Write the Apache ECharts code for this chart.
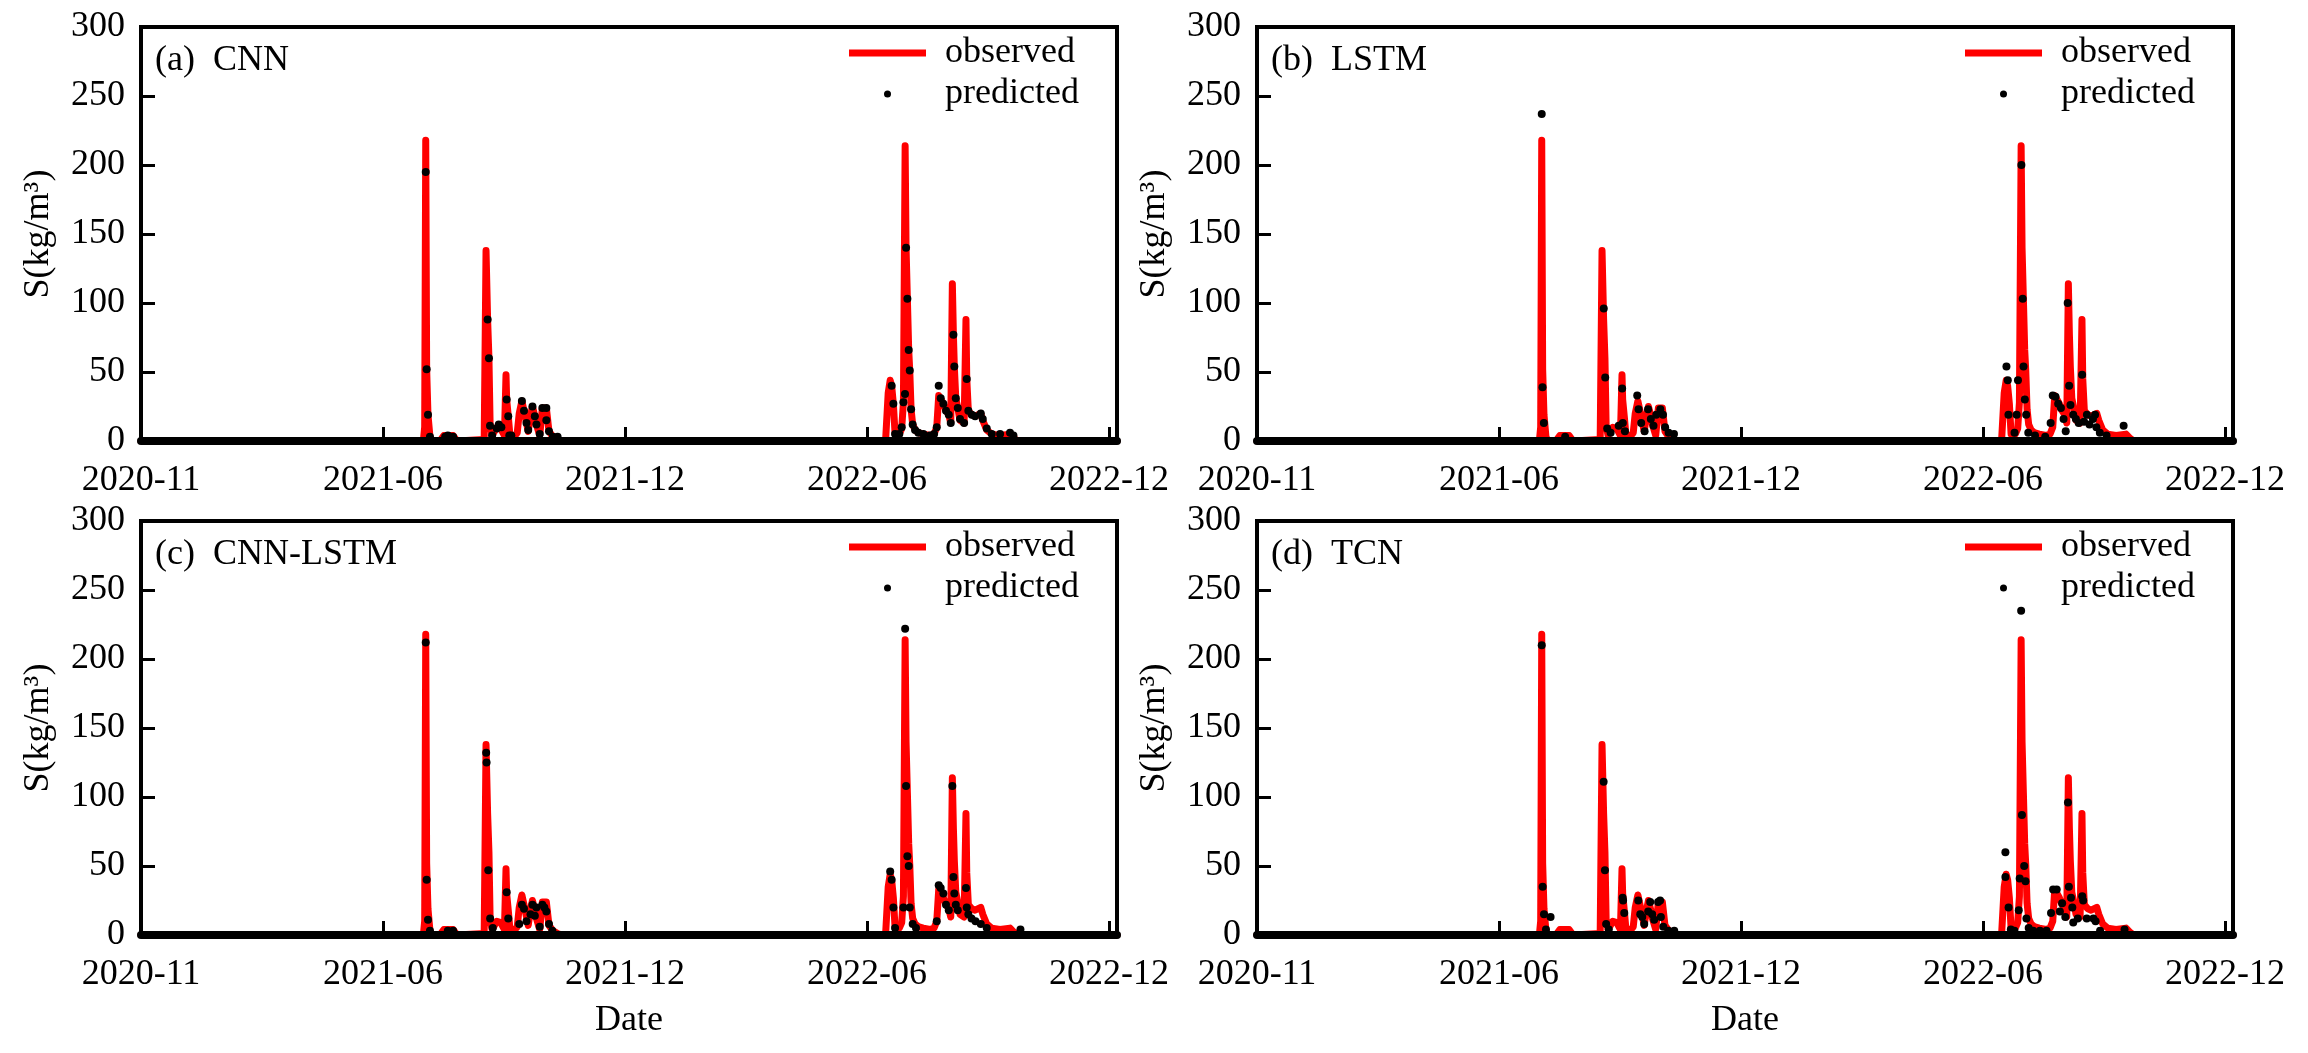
<!DOCTYPE html>
<html>
<head>
<meta charset="utf-8">
<script src="https://cdn.jsdelivr.net/npm/echarts@6/dist/echarts.min.js"></script>
<style>
html,body{margin:0;padding:0;background:#fff;}
#chart{width:2308px;height:1053px;}
</style>
</head>
<body>
<div id="chart"></div>
<script>
// x values are day offsets from the first tick ("2020-11"); one tick step = 183 days
const xTickLabels = ['2020-11', '2021-06', '2021-12', '2022-06', '2022-12'];
const yTicks = [0, 50, 100, 150, 200, 250, 300];
const panelNames = ['(a)\u2002CNN', '(b)\u2002LSTM', '(c)\u2002CNN-LSTM', '(d)\u2002TCN'];

const observed = [
  [0,0],[213.5,0],[214.5,10],[215.3,218],[216,52],[217,19],[218.5,3],[220,0],
  [226,0],[229,4],[236,4],[239,0],
  [259.5,1],[260.9,138],[262.1,88],[263.1,60],[264,11],[265.5,4],[269,10],[272,9],[274.8,4],
  [276,48],[276.5,30],[277.7,18],[279,4],[282,3],[284.5,6],[286,20],[288,29],[289.6,22],
  [291.5,13],[292.8,7],[294.5,18],[296,25],[297.8,18],[299,12],[301.5,4],[302.5,14],[303.5,24],
  [306.5,24],[308.5,7],[311.5,3],[315,1],[318,0],
  [563,0],[565,35],[566.5,44],[567.6,40],[568.9,27],[570.2,5],[573.4,5],[575.2,9],[576.5,28],
  [577.8,214],[578.5,140],[579.5,103],[580.5,66],[581.3,51],[582.3,23],[583.5,12],[585.3,8],
  [587.8,6],[591.6,5],[596.6,4],[599.7,5],[601.7,10],[603.2,33],[604.7,34],[606.7,27],[608.7,22],
  [610.8,19],[612.3,13],[613.5,114],[614.3,77],[615,54],[616.1,31],[617.6,24],[619.3,15],[622.4,13],
  [623.8,88],[624.4,45],[625.6,22],[628.2,19],[630.7,18],[635,20],[636.5,15],[639.5,8],[643.3,5],
  [649.6,4],[657.1,5],[660,2],[663,0],[738,0]
];

const predCNN = [
  [215.3,195],[216,52],[217,19],[218.5,3],[230,3],[232,4],[234,3],[236,3],
  [262.1,88],[263.1,60],[263.9,11],[265.5,4],[269,9],[270.5,12],[272.5,10],[276.5,30],[277.7,18],
  [278.5,4],[280,4],[288,29],[289.6,22],[291.5,13],[292.8,8],[296,25],[297.8,18],[299,12],[301.5,5],
  [303.5,24],[306.5,24],[306.5,15],[308.5,7],[311.5,3],[315,3],
  [567.6,40],[568.9,27],[570.2,5],[573.4,5],[575.2,10],[576.5,28],[577.7,34],[578.5,140],[579.5,103],
  [580.5,66],[581.3,51],[582.3,23],[583.5,12],[585.3,8],[587.8,6],[591.6,5],[596.6,4],[599.7,5],
  [601.7,10],[603.2,40],[604.7,31],[606.7,27],[608.7,22],[610.8,19],[612.3,13],[614.3,77],[615,54],
  [616.1,31],[617.6,24],[619.3,16],[622.4,13],[624.4,45],[625.6,22],[628.2,19],[630.7,18],[635,20],
  [636.5,16],[639.5,9],[643.3,5],[649.6,5],[657.1,6],[659.7,4]
];

const predLSTM = [
  [215.3,237],[215.9,39],[216.9,13],[233,3],[262.2,96],[263.3,46],[264.8,9],[267.4,6],[273.5,11],
  [276.1,38],[276.6,13],[278.2,7],[287.5,33],[288.5,23],[290.5,13],[293.1,7],[295.7,23],[297.8,16],
  [299.8,11],[301.9,19],[305,23],[307,19],[308.6,10],[311.2,6],[315.3,5],
  [566.7,54],[567.7,44],[568.2,19],[572.8,6],[574.4,19],[575.4,44],[578,200],[579,103],[579.6,54],
  [580.6,30],[581.6,19],[583.2,6],[588.3,4],[596,3],[600.1,13],[601.7,33],[603.8,32],[605.8,27],
  [607.9,24],[609.9,16],[611.5,7],[613,100],[614.1,40],[615.1,26],[617.2,19],[619.2,16],[621.3,13],
  [623.9,48],[625.4,14],[627.5,19],[629.5,12],[632.1,16],[633.7,19],[634.7,10],[637.3,6],[642.4,4],
  [655.3,11]
];

const predCNNLSTM = [
  [215.3,212],[216,40],[217,11],[218.5,3],[232,3],[236,3],
  [261,132],[261.3,125],[262.6,47],[264,12],[266,5],[276.5,31],[277.7,12],
  [286,8],[288,22],[289.6,19],[291.5,10],[294.5,15],[296,22],[297.8,14],[299,20],[301.5,6],
  [303.5,22],[305,20],[306.5,17],[308.5,8],[311,3],
  [566.5,46],[567.6,40],[568.9,20],[570.2,5],[576.5,20],[577.8,222],[578.5,108],[579.5,57],
  [580.5,50],[581.3,20],[583.5,8],[586,5],[601.7,10],[603.2,36],[604.7,34],[606.7,30],[608.7,22],
  [610.8,18],[613.5,108],[614.3,42],[615,30],[616.1,22],[617.6,18],[623.8,34],[624.4,20],[625.6,15],
  [628,12],[631,10],[635,8],[639.5,5],[665,4]
];

const predTCN = [
  [215.3,210],[216,35],[217,15],[218.5,4],[222,13],
  [262.1,111],[263.1,47],[264,8],[266,4],[276.5,27],[276.8,25],[277.7,16],
  [288.3,25],[289.8,15],[291.3,13],[292.8,8],[295.8,17],[297.3,24],[298.8,15],[300.3,11],
  [303.3,24],[304.8,25],[305.4,13],[307.2,6],[311,3],[315.5,3],
  [565.9,60],[565.9,42],[568.3,20],[570,4],[572.7,3],[576,18],[576.7,41],[577.8,235],[578.4,87],
  [580.1,50],[581.1,39],[581.8,12],[583.5,5],[586.9,3],[592,3],[597,3],[600.4,16],[602,33],
  [604.7,33],[607.1,17],[608.8,23],[611.2,13],[613.2,96],[613.9,35],[615.5,27],[616.5,20],[617.2,9],
  [620.6,12],[624,28],[624.7,25],[627.4,12],[632.4,12],[634.1,10],[637.5,3],[656,4]
];

const predictions = [predCNN, predLSTM, predCNNLSTM, predTCN];

const FONT = 'Liberation Serif';
const TICK_STEP = 183;
const X_MAX = 738;
const grids = [
  {left: 141, top: 27, width: 976, height: 414},
  {left: 1257, top: 27, width: 976, height: 414},
  {left: 141, top: 521, width: 976, height: 414},
  {left: 1257, top: 521, width: 976, height: 414}
];

const chart = echarts.init(document.getElementById('chart'), null, {renderer: 'canvas'});
const option = {
  animation: false,
  backgroundColor: '#fff',
  title: grids.map((g, i) => ({
    text: panelNames[i], left: g.left + 14, top: g.top + 16, padding: 0,
    textStyle: {fontFamily: FONT, fontSize: 36, fontWeight: 'normal', color: '#000'}
  })),
  legend: grids.map((g, i) => ({
    orient: 'vertical', left: g.left + 708, top: g.top + 8, padding: 0,
    itemWidth: 77, itemHeight: 7, itemGap: 5,
    data: [{name: 'observed', icon: 'rect'}, {name: 'predicted', icon: 'circle'}],
    textStyle: {fontFamily: FONT, fontSize: 36, color: '#000', lineHeight: 36, padding: [0, 0, 0, 14]}
  })),
  grid: grids.map(g => Object.assign({show: true, borderColor: '#000', borderWidth: 4, backgroundColor: 'transparent'}, g)),
  xAxis: grids.map((g, i) => ({
    gridIndex: i, type: 'value', min: 0, max: X_MAX, interval: TICK_STEP, z: 10,
    name: i >= 2 ? 'Date' : '', nameLocation: 'middle', nameGap: 68,
    nameTextStyle: {fontFamily: FONT, fontSize: 36, color: '#000'},
    axisLine: {lineStyle: {color: '#000', width: 8}},
    axisTick: {inside: true, length: 14, lineStyle: {color: '#000', width: 3}},
    splitLine: {show: false},
    axisLabel: {
      margin: 22, fontFamily: FONT, fontSize: 36, color: '#000',
      formatter: v => {
        const k = v / TICK_STEP;
        return Number.isInteger(k) && k < xTickLabels.length ? xTickLabels[k] : '';
      }
    }
  })),
  yAxis: grids.map((g, i) => ({
    gridIndex: i, type: 'value', min: yTicks[0], max: yTicks[yTicks.length - 1],
    interval: yTicks[1] - yTicks[0], z: 10,
    name: 'S(kg/m\u00B3)', nameLocation: 'middle', nameGap: 84,
    nameTextStyle: {fontFamily: FONT, fontSize: 36, color: '#000'},
    axisLine: {show: true, lineStyle: {color: '#000', width: 4}},
    axisTick: {inside: true, length: 14, lineStyle: {color: '#000', width: 3}},
    splitLine: {show: false},
    axisLabel: {margin: 16, fontFamily: FONT, fontSize: 36, color: '#000'}
  })),
  series: []
};
grids.forEach((g, i) => {
  option.series.push({
    type: 'line', name: 'observed', xAxisIndex: i, yAxisIndex: i, data: observed,
    symbol: 'none', color: '#ff0000', itemStyle: {color: '#ff0000'},
    lineStyle: {color: '#ff0000', width: 7, cap: 'round', join: 'round'}, z: 2
  });
  option.series.push({
    type: 'scatter', name: 'predicted', xAxisIndex: i, yAxisIndex: i, data: predictions[i],
    symbol: 'circle', symbolSize: 8, itemStyle: {color: '#000', opacity: 1}, z: 3
  });
});
chart.setOption(option);
</script>
</body>
</html>
